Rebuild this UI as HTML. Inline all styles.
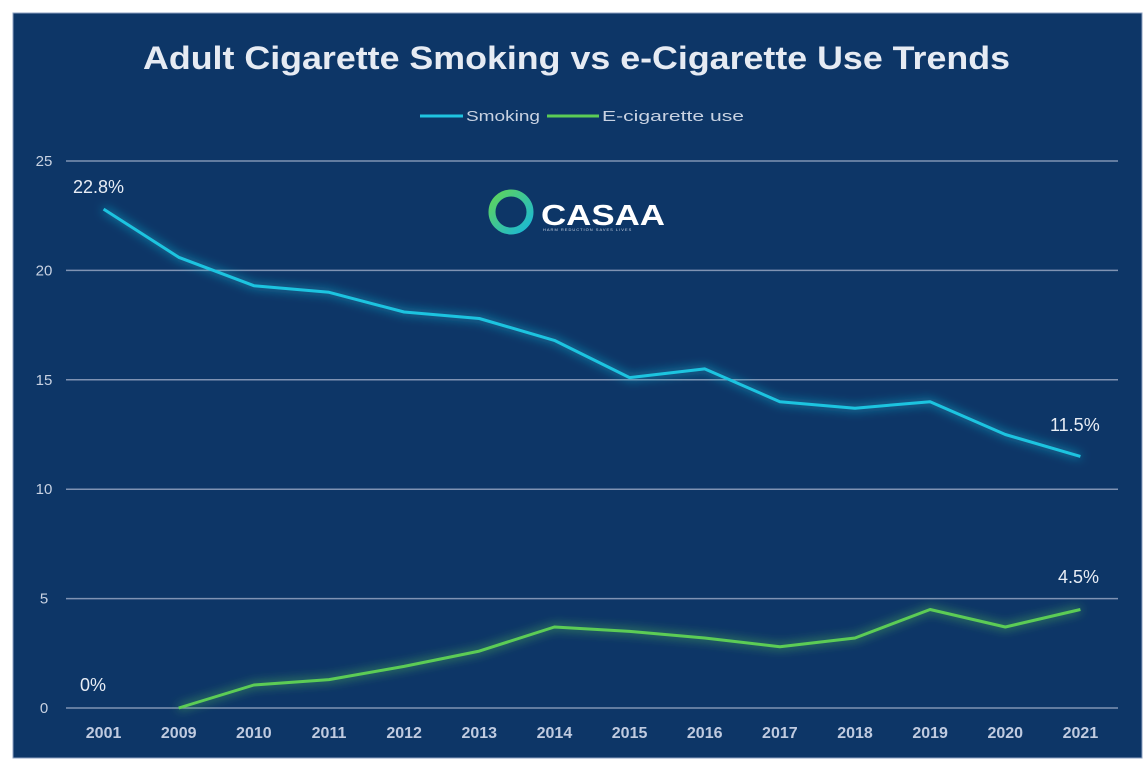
<!DOCTYPE html>
<html><head><meta charset="utf-8"><style>
html,body{margin:0;padding:0;background:#fff;width:1146px;height:768px;overflow:hidden}
svg{display:block;font-family:"Liberation Sans",sans-serif}
</style></head><body>
<svg width="1146" height="768" viewBox="0 0 1146 768">
<defs>
<filter id="glowB" x="-20%" y="-50%" width="140%" height="200%"><feGaussianBlur stdDeviation="5" result="b"/><feMerge><feMergeNode in="b"/><feMergeNode in="SourceGraphic"/></feMerge></filter>
<filter id="glowG" x="-20%" y="-50%" width="140%" height="200%"><feGaussianBlur stdDeviation="5" result="b"/><feMerge><feMergeNode in="b"/><feMergeNode in="SourceGraphic"/></feMerge></filter>
<linearGradient id="ring" x1="0" y1="0" x2="1" y2="1"><stop offset="0" stop-color="#5fd35a"/><stop offset="1" stop-color="#19b7d8"/></linearGradient>
</defs>
<rect x="13" y="13" width="1129" height="745" fill="#0d3667" stroke="#8da0c0" stroke-width="1"/>
<text x="143" y="69" textLength="867" lengthAdjust="spacingAndGlyphs" font-size="32" font-weight="bold" fill="#e6ebf3">Adult Cigarette Smoking vs  e-Cigarette Use Trends</text>
<g>
<line x1="420" y1="116" x2="463" y2="116" stroke="#1fc4e0" stroke-width="3"/>
<text x="466" y="121" textLength="74" lengthAdjust="spacingAndGlyphs" font-size="15" fill="#c8d2e2">Smoking</text>
<line x1="547" y1="116" x2="599" y2="116" stroke="#5ccc55" stroke-width="3"/>
<text x="602" y="121" textLength="142" lengthAdjust="spacingAndGlyphs" font-size="15" fill="#c8d2e2">E-cigarette use</text>
</g>
<g id="grid"></g>
<g id="ylabels"></g>
<g id="xlabels"></g>
<g>
<circle cx="511" cy="212" r="19" fill="none" stroke="url(#ring)" stroke-width="7"/>
<text x="541" y="225" textLength="124" lengthAdjust="spacingAndGlyphs" font-size="29" font-weight="bold" fill="#ffffff">CASAA</text>
<text x="543" y="231" font-size="4" fill="#c8d2e2" letter-spacing="1">HARM REDUCTION SAVES LIVES</text>
</g>
<g id="series"></g>
<g id="annotations" font-size="18" fill="#e8edf5">
<text x="73" y="193">22.8%</text>
<text x="1050" y="431">11.5%</text>
<text x="80" y="691">0%</text>
<text x="1058" y="583">4.5%</text>
</g>
</svg>
<script>
const categories = ["2001","2009","2010","2011","2012","2013","2014","2015","2016","2017","2018","2019","2020","2021"];
const smoking = [22.8,20.6,19.3,19.0,18.1,17.8,16.8,15.1,15.5,14.0,13.7,14.0,12.5,11.5];
const ecig = [null,0,1.05,1.3,1.9,2.6,3.7,3.5,3.2,2.8,3.2,4.5,3.7,4.5];
const yTicks = [0,5,10,15,20,25];

const NS="http://www.w3.org/2000/svg";
const plotL=66, plotR=1118, y0=708, yTop=161, yMax=25;
const band=(plotR-plotL)/categories.length;
const xs=i=>plotL+band*(i+0.5);
const ys=v=>y0-(v/yMax)*(y0-yTop);
function mk(tag,attrs,parent){const e=document.createElementNS(NS,tag);for(const k in attrs)e.setAttribute(k,attrs[k]);parent.appendChild(e);return e;}

const grid=document.getElementById('grid'), yl=document.getElementById('ylabels'), xl=document.getElementById('xlabels'), ser=document.getElementById('series');
yTicks.forEach(t=>{
  const l=mk('line',{x1:plotL,x2:plotR,y1:ys(t),y2:ys(t),stroke:'#7f93b3','stroke-width':1.5},grid);
  
  
  const tx=mk('text',{x:44,y:ys(t)+5,'text-anchor':'middle','font-size':15,fill:'#c8d2e2'},yl);
  tx.textContent=t;
  
  
});
categories.forEach((c,i)=>{
  const tx=mk('text',{x:xs(i),y:738,'text-anchor':'middle','font-size':16,'font-weight':'bold',fill:'#c0cbe0'},xl);
  tx.textContent=c;
  
  
});
function path(vals){let d='',started=false;vals.forEach((v,i)=>{if(v===null)return;d+=(started?'L':'M')+xs(i).toFixed(1)+','+ys(v).toFixed(1);started=true;});return d;}
const p1=mk('path',{d:path(smoking),fill:'none',stroke:'#1fc4e0','stroke-width':3,'stroke-linejoin':'round',filter:'url(#glowB)'},ser);


const p2=mk('path',{d:path(ecig),fill:'none',stroke:'#5ccc55','stroke-width':3,'stroke-linejoin':'round',filter:'url(#glowG)'},ser);


</script>
</body></html>
